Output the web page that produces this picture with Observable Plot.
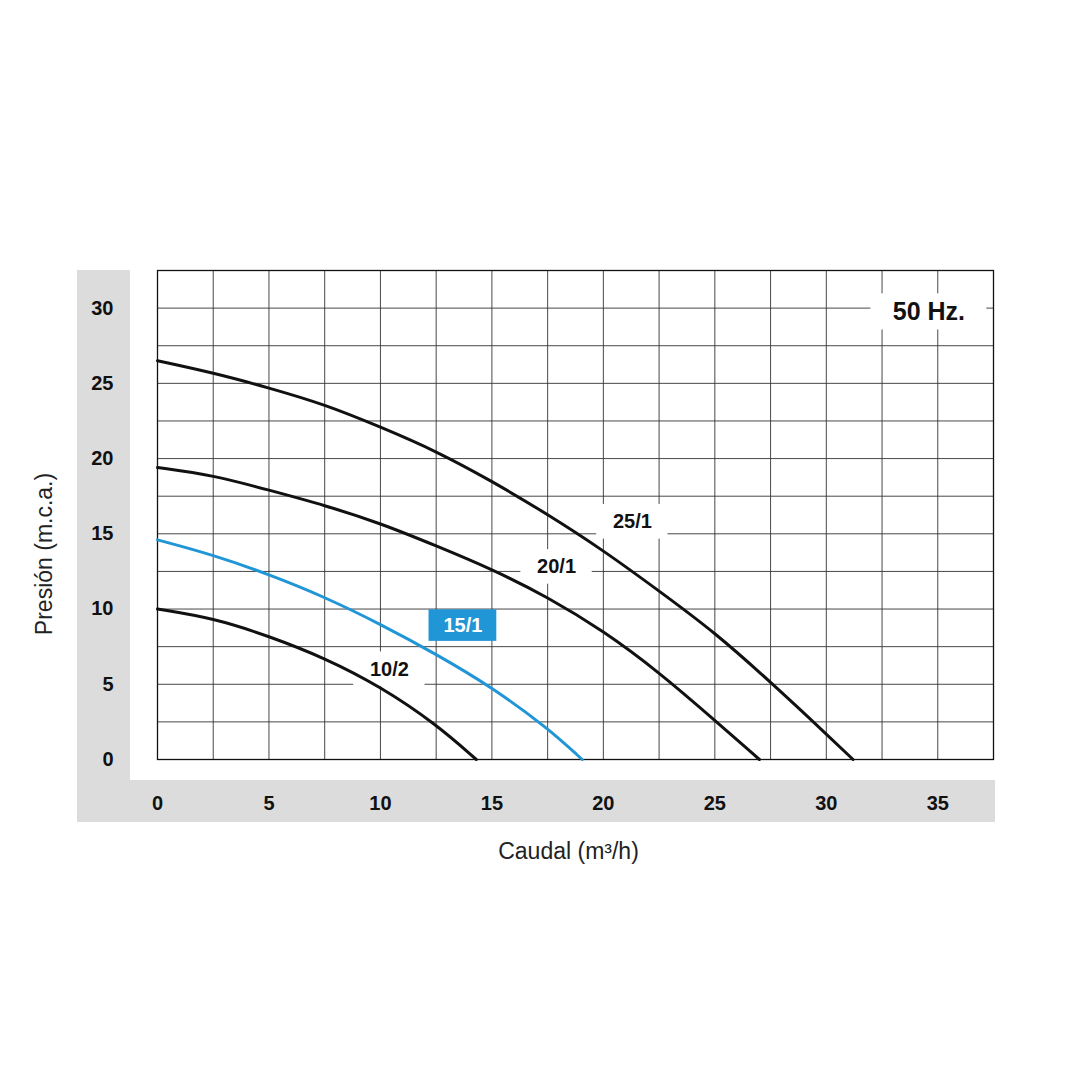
<!DOCTYPE html>
<html>
<head>
<meta charset="utf-8">
<script src="https://cdn.jsdelivr.net/npm/d3@7"></script>
<script src="https://cdn.jsdelivr.net/npm/@observablehq/plot@0.6"></script>
<style>
  html, body { margin: 0; padding: 0; background: #fff; }
</style>
</head>
<body>
<div id="chart"></div>
<script>
// curvas de bomba, 50 Hz
const models = ["25/1", "20/1", "15/1", "10/2"];

const caudal25 = [0, 2.5, 5, 7.5, 10, 12.5, 15, 17.5, 20, 22.5, 25, 27.5, 30, 31.2];
const presion25 = [26.5, 25.7, 24.7, 23.6, 22.1, 20.5, 18.5, 16.3, 13.9, 11.2, 8.45, 5.15, 1.7, 0];

const caudal20 = [0, 2.5, 5, 7.5, 10, 12.5, 15, 17.5, 20, 22.5, 25, 27];
const presion20 = [19.4, 18.9, 17.9, 16.9, 15.7, 14.2, 12.65, 10.8, 8.55, 5.8, 2.6, 0];

const caudal15 = [0, 2.5, 5, 7.5, 10, 12.5, 15, 17.5, 19.05];
const presion15 = [14.6, 13.6, 12.3, 10.8, 9.0, 7.0, 4.8, 2.1, 0];

const caudal10 = [0, 2.5, 5, 7.5, 10, 12.5, 14.3];
const presion10 = [10.0, 9.4, 8.2, 6.75, 4.85, 2.35, 0];

const xTicks = [0, 5, 10, 15, 20, 25, 30, 35];
const yTicks = [0, 5, 10, 15, 20, 25, 30];
const xGrid = d3.range(0, 37.6, 2.5);
const yGrid = d3.range(0, 32.6, 2.5);

const labelX = [21.3, 17.9, 13.7, 10.4];
const labelY = [15.8, 12.8, 8.9, 6.0];

const hzText = ["50 Hz."];
const hzX = [34.6];
const hzY = [29.75];

const blue = "#2196d6";
const ink = "#111";

const series = [
  [caudal25, presion25],
  [caudal20, presion20],
  [caudal15, presion15],
  [caudal10, presion10]
];
const rows = series.flatMap(([q, h], i) => q.map((v, j) => ({model: models[i], q: v, h: h[j]})));
const labels = models.map((m, i) => ({model: m, x: labelX[i], y: labelY[i]}));
const boxed = labels.filter(d => d.model === "15/1");
const plain = labels.filter(d => d.model !== "15/1");
const hz = hzText.map((t, i) => ({text: t, x: hzX[i], y: hzY[i]}));

const font = "Liberation Sans, Arial, Helvetica, sans-serif";
const margin = {top: 270, right: 87, bottom: 321, left: 157};

const chart = Plot.plot({
  width: 1080,
  height: 1080,
  marginTop: margin.top,
  marginRight: margin.right,
  marginBottom: margin.bottom,
  marginLeft: margin.left,
  style: {fontFamily: font, background: "transparent", color: ink},
  x: {domain: [0, 37.5]},
  y: {domain: [0, 32.5]},
  color: {domain: models, range: [ink, ink, blue, ink]},
  marks: [
    Plot.gridX(xGrid, {stroke: "#333", strokeOpacity: 1, strokeWidth: 0.9}),
    Plot.gridY(yGrid, {stroke: "#333", strokeOpacity: 1, strokeWidth: 0.9}),
    Plot.frame({stroke: ink, strokeWidth: 1.3}),
    Plot.axisX(xTicks, {tickSize: 0, tickPadding: 36, fontSize: 20, fontWeight: "bold", fill: ink, label: null}),
    Plot.axisY(yTicks, {tickSize: 0, tickPadding: 44, fontSize: 20, fontWeight: "bold", fill: ink, label: null}),
    // cajas blancas detrás de las etiquetas
    Plot.rect(plain, {x1: d => d.x - 1.6, x2: d => d.x + 1.6, y1: d => d.y - 1.15, y2: d => d.y + 1.15, fill: "white"}),
    Plot.rect(hz, {x1: d => d.x - 2.6, x2: d => d.x + 2.6, y1: d => d.y - 1.2, y2: d => d.y + 1.2, fill: "white"}),
    Plot.line(rows, {x: "q", y: "h", z: "model", stroke: "model", strokeWidth: 3, curve: "basis"}),
    Plot.text(plain, {x: "x", y: "y", text: "model", fontSize: 20, fontWeight: "bold", fill: ink}),
    Plot.rect(boxed, {x1: d => d.x - 1.52, x2: d => d.x + 1.52, y1: d => d.y - 1.05, y2: d => d.y + 1.05, fill: blue}),
    Plot.text(boxed, {x: "x", y: "y", text: "model", fontSize: 20, fontWeight: "bold", fill: "white"}),
    Plot.text(hz, {x: "x", y: "y", text: "text", fontSize: 25, fontWeight: "bold", fill: ink}),
    Plot.text(["Caudal (m³/h)"], {frameAnchor: "bottom", dx: -7, dy: 99, lineAnchor: "bottom", fontSize: 23, fill: "#222"}),
    Plot.text(["Presión (m.c.a.)"], {frameAnchor: "left", textAnchor: "middle", rotate: -90, dx: -113, dy: 39, fontSize: 23, fill: "#222"})
  ]
});

// bandas grises detrás de los ejes
const svg = d3.select(chart);
const W = 1080;
svg.insert("rect", ":first-child")
  .attr("x", margin.left - 80).attr("y", 1080 - margin.bottom + 21)
  .attr("width", W - margin.right - margin.left + 82).attr("height", 42)
  .attr("fill", "#dcdcdc");
svg.insert("rect", ":first-child")
  .attr("x", margin.left - 80).attr("y", margin.top)
  .attr("width", 53).attr("height", 1080 - margin.bottom + 63 - margin.top)
  .attr("fill", "#dcdcdc");

document.getElementById("chart").append(chart);
</script>
</body>
</html>
